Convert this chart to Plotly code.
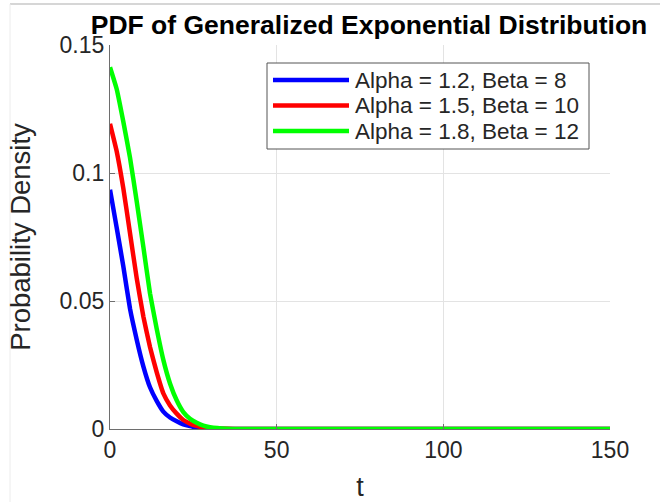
import plotly.graph_objects as go

# ---- data ----
t = [0, 2, 4, 6, 8, 10, 12, 14, 16, 18, 20, 22, 24, 26, 28, 30, 35, 40,
     50, 60, 70, 80, 90, 100, 110, 120, 130, 140, 150]

pdf_a12_b8 = [0.0935, 0.0787, 0.0635, 0.0470, 0.0350, 0.0245, 0.0163, 0.0110,
              0.0068, 0.0045, 0.0030, 0.0018, 0.0011, 0.0006, 0.0003, 0.00015,
              0.00003, 0, 0, 0, 0, 0, 0, 0, 0, 0, 0, 0, 0]
pdf_a15_b10 = [0.1192, 0.1085, 0.0940, 0.0765, 0.0590, 0.0440, 0.0320, 0.0222,
               0.0139, 0.0092, 0.0060, 0.0035, 0.0021, 0.0012, 0.0006, 0.0003,
               0.00005, 0, 0, 0, 0, 0, 0, 0, 0, 0, 0, 0, 0]
pdf_a18_b12 = [0.1413, 0.1328, 0.1200, 0.1060, 0.0890, 0.0712, 0.0530, 0.0392,
               0.0270, 0.0178, 0.0112, 0.0066, 0.0040, 0.0024, 0.0013, 0.0007,
               0.0001, 0, 0, 0, 0, 0, 0, 0, 0, 0, 0, 0, 0]

series_names = ["Alpha = 1.2, Beta = 8", "Alpha = 1.5, Beta = 10", "Alpha = 1.8, Beta = 12"]
series_values = [pdf_a12_b8, pdf_a15_b10, pdf_a18_b12]
series_colors = ["#0000ff", "#ff0000", "#00ff00"]

x_ticks = [0, 50, 100, 150]
x_ticktext = ["0", "50", "100", "150"]
y_ticks = [0, 0.05, 0.1, 0.15]
y_ticktext = ["0", "0.05", "0.1", "0.15"]

FONT = "Liberation Sans, Arial, sans-serif"
AX = "#262626"

fig = go.Figure()
for name, vals, col in zip(series_names, series_values, series_colors):
    fig.add_trace(go.Scatter(x=t, y=vals, mode="lines", name=name, showlegend=False,
                             line=dict(color=col, width=4.5, shape="spline", smoothing=0.35)))

W, H = 660, 502
L, R, T, B = 110, 50, 45, 73
pw, ph = W - L - R, H - T - B

def px_x(p):
    return (p - L) / pw

def px_y(p):
    return (H - B - p) / ph

# legend box (drawn as shapes + annotations to match MATLAB's legend layout)
leg_x0, leg_x1, leg_y0, leg_y1 = 267, 589, 63, 149
row_y = [80, 105.5, 131]
shapes = [
    dict(type="line", xref="paper", yref="paper",
         x0=px_x(10), x1=px_x(W), y0=px_y(4), y1=px_y(4),
         line=dict(color="#c8c8c8", width=1.5)),
    dict(type="line", xref="paper", yref="paper",
         x0=px_x(10), x1=px_x(10), y0=px_y(4), y1=px_y(H),
         line=dict(color="#ececec", width=1)),
    dict(type="rect", xref="paper", yref="paper",
         x0=px_x(leg_x0), x1=px_x(leg_x1), y0=px_y(leg_y0), y1=px_y(leg_y1),
         line=dict(color="#555555", width=1), fillcolor="white", layer="above"),
]
annotations = []
for name, col, ry in zip(series_names, series_colors, row_y):
    shapes.append(dict(type="line", xref="paper", yref="paper",
                       x0=px_x(273), x1=px_x(349), y0=px_y(ry), y1=px_y(ry),
                       line=dict(color=col, width=4.5), layer="above"))
    annotations.append(dict(text=name, xref="paper", yref="paper",
                            x=px_x(353), y=px_y(ry), xanchor="left", yanchor="middle",
                            showarrow=False,
                            font=dict(size=22.5, color=AX, family=FONT)))

fig.update_layout(
    width=W, height=H,
    margin=dict(l=L, r=R, t=T, b=B, autoexpand=False),
    paper_bgcolor="white", plot_bgcolor="white",
    font=dict(family=FONT, color=AX),
    showlegend=False,
    title=dict(text="<b>PDF of Generalized Exponential Distribution</b>",
               font=dict(size=26.5, color="black", family=FONT),
               x=px_x(369), xref="paper", xanchor="center",
               y=1 - 25 / H, yref="container", yanchor="middle"),
    xaxis=dict(range=[0, 150], tickvals=x_ticks, ticktext=x_ticktext,
               automargin=False,
               showgrid=True, gridcolor="#e3e3e3", gridwidth=1,
               showline=True, linecolor="#6e6e6e", linewidth=1.3,
               ticks="inside", ticklen=5, tickcolor="#6e6e6e",
               tickfont=dict(size=23, color=AX, family=FONT),
               zeroline=False,
               title=dict(text="t", font=dict(size=27, color=AX, family=FONT), standoff=16)),
    yaxis=dict(range=[0, 0.15], tickvals=y_ticks, ticktext=y_ticktext,
               automargin=False,
               showgrid=True, gridcolor="#e3e3e3", gridwidth=1,
               showline=True, linecolor="#6e6e6e", linewidth=1.3,
               ticks="inside", ticklen=5, tickcolor="#6e6e6e",
               tickfont=dict(size=23, color=AX, family=FONT),
               zeroline=False,
               title=dict(text="Probability Density", font=dict(size=27.5, color=AX, family=FONT),
                          standoff=20)),
    shapes=shapes,
    annotations=annotations,
)

fig.write_html("out.html")
